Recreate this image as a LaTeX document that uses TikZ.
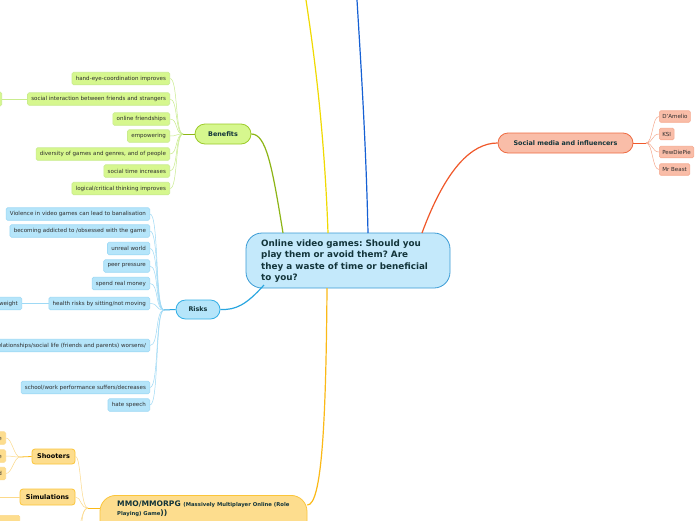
\documentclass[tikz,border=0pt]{standalone}
\usepackage{fontspec}
\setmainfont{DejaVu Sans}
\frenchspacing
\definecolor{cfill}{HTML}{C4E9FB}
\definecolor{cdraw}{HTML}{3A9BD5}
\definecolor{ctext}{HTML}{12343A}
\definecolor{gfill}{HTML}{D6F78E}
\definecolor{gdraw}{HTML}{9CCB2A}
\definecolor{gline}{HTML}{8DB516}
\definecolor{glight}{HTML}{C9EC8E}
\definecolor{bfill}{HTML}{B5E5FA}
\definecolor{bdraw}{HTML}{35B0E6}
\definecolor{bline}{HTML}{29A6E0}
\definecolor{blight}{HTML}{9ED9F5}
\definecolor{rfill}{HTML}{F9BDA8}
\definecolor{rdraw}{HTML}{EE6C43}
\definecolor{rline}{HTML}{F0582A}
\definecolor{rlight}{HTML}{F6AA90}
\definecolor{yfill}{HTML}{FDDD8E}
\definecolor{ydraw}{HTML}{FBC53A}
\definecolor{yline}{HTML}{FBB917}
\definecolor{ylight}{HTML}{FCD98A}
\definecolor{yellowline}{HTML}{F0DA00}
\definecolor{darkblue}{HTML}{1560D4}
\definecolor{leaftext}{HTML}{2E2E2E}
\tikzset{
  leaf/.style={draw, rounded corners=1.5pt, line width=0.6pt, inner xsep=3.8pt, inner ysep=0pt,
    minimum height=12.5pt, font=\fontsize{5.55}{6.5}\selectfont, text=leaftext},
  gleaf/.style={leaf, fill=gfill, draw=glight},
  bleaf/.style={leaf, fill=bfill, draw=blight},
  rleaf/.style={leaf, fill=rfill, draw=rlight, minimum height=11.5pt, inner xsep=3pt},
  yleaf/.style={leaf, fill=yfill, draw=ylight},
  mainbox/.style={draw, line width=0.8pt, inner sep=0pt, text=ctext,
    font=\fontsize{6.4}{8}\selectfont\bfseries},
  bsub/.style={line width=0.5pt, draw=blight},
  gsub/.style={line width=0.5pt, draw=glight},
  rsub/.style={line width=0.5pt, draw=rlight},
  ysub/.style={line width=0.5pt, draw=ylight},
}
\begin{document}
\begin{tikzpicture}[x=1pt,y=-1pt]
\useasboundingbox (0,0) rectangle (696,520);
\fill[white] (0,0) rectangle (696,520);

% ---------- central node
\node[draw=cdraw, fill=cfill, line width=0.8pt, rounded corners=16pt,
  minimum width=204pt, minimum height=55pt, inner sep=0pt] (c) at (348,260.5) {};
\node[anchor=west, inner sep=0pt, align=left,
  text=ctext, font=\fontsize{8.8}{11.3}\selectfont\bfseries]
  (ct) at (261,261) {Online video games: Should you\\play them or avoid them? Are\\they a waste of time or beneficial\\to you?};

% ---------- main nodes
\node[mainbox, fill=gfill, draw=gdraw, rounded corners=10pt, minimum width=56pt, minimum height=20pt] (ben) at (223,134) {Benefits};
\node[mainbox, fill=bfill, draw=bdraw, rounded corners=9.5pt, minimum width=44pt, minimum height=19pt] (risk) at (198,309.5) {Risks};
\node[mainbox, fill=rfill, draw=rdraw, rounded corners=10pt, minimum width=135pt, minimum height=20pt] (soc) at (565.5,143) {Social media and influencers};
\node[draw=ydraw, fill=yfill, line width=0.8pt, rounded corners=16pt, minimum width=207pt, minimum height=50pt,
  anchor=north, inner sep=0pt] (mmo) at (203.5,495) {};
\node[anchor=north west, inner sep=0pt, align=left, text=ctext,
  font=\fontsize{7.6}{8.6}\selectfont\bfseries]
  (mmot) at (117,501) {MMO/MMORPG {\fontsize{5.3}{8.6}\selectfont (Massively Multiplayer Online (Role}\\{\fontsize{5.3}{8.6}\selectfont Playing) Game})) };

\node[mainbox, fill=yfill, draw=ydraw, rounded corners=3pt, minimum width=43pt, minimum height=15pt, text=black, font=\fontsize{6.5}{8}\selectfont\bfseries] (shoot) at (53.5,456.5) {Shooters};
\node[mainbox, fill=yfill, draw=ydraw, rounded corners=3pt, minimum width=55pt, minimum height=16pt, text=black, font=\fontsize{6.5}{8}\selectfont\bfseries] (sim) at (47.5,497) {Simulations};

% ---------- main connectors
\draw[gline, line width=1.2pt] (283,233) .. controls (272,165) and (266,134) .. (ben.east);
\draw[bline, line width=1.2pt] (264,285) .. controls (246,305) and (236,310) .. (risk.east);
\draw[rline, line width=1.2pt] (422,233) .. controls (446,168) and (472,143) .. (soc.west);
\draw[yline, line width=1.2pt] (327,288) .. controls (326,420) and (322,505) .. (mmo.east |- 0,505);
\draw[yellowline, line width=1.2pt] (328,233) .. controls (324,120) and (312,40) .. (306,0);
\draw[darkblue, line width=1.2pt] (368,233) .. controls (366,140) and (360,50) .. (357,0);

% ---------- Benefits leaves
\coordinate (bj) at (183,134);
\draw[gline, line width=1pt] (ben.west) -- (bj);
\node[gleaf, anchor=east] (b1) at (170,78.5) {hand-eye-coordination improves};
\node[gleaf, anchor=east] (b2) at (170,99) {social interaction between friends and strangers};
\node[gleaf, anchor=east] (b3) at (170,119) {online friendships};
\node[gleaf, anchor=east] (b4) at (170,136) {empowering};
\node[gleaf, anchor=east] (b5) at (170,154) {diversity of games and genres, and of people};
\node[gleaf, anchor=east] (b6) at (170,171) {social time increases};
\node[gleaf, anchor=east] (b7) at (170,188.5) {logical/critical thinking improves};
\foreach \n in {b1,b2,b3,b4,b5,b6,b7}
  \draw[gsub] (bj) .. controls +(-8,0) and +(8,0) .. (\n.east);
\node[gleaf, anchor=east, minimum width=10pt, minimum height=14pt] (b2a) at (2,99) {};
\draw[gsub] (b2.west) -- (b2a.east);

% ---------- Risks leaves
\coordinate (rj) at (164,310);
\draw[bline, line width=1pt] (risk.west) -- (rj);
\node[bleaf, anchor=east] (r1) at (150,214) {Violence in video games can lead to banalisation};
\node[bleaf, anchor=east] (r2) at (150,231) {becoming addicted to /obsessed with the game};
\node[bleaf, anchor=east] (r3) at (150,248.5) {unreal world};
\node[bleaf, anchor=east] (r4) at (150,266) {peer pressure};
\node[bleaf, anchor=east] (r5) at (150,283.5) {spend real money};
\node[bleaf, anchor=east] (r6) at (150,303.5) {health risks by sitting/not moving};
\node[bleaf, anchor=east] (r7) at (150,345.5) {relationships/social life (friends and parents) worsens/};
\node[bleaf, anchor=east] (r8) at (150,387.5) {school/work performance suffers/decreases};
\node[bleaf, anchor=east] (r9) at (150,405) {hate speech};
\foreach \n in {r1,r2,r3,r4,r5,r6,r7,r8,r9}
  \draw[bsub] (rj) .. controls +(-9,0) and +(9,0) .. (\n.east);
\node[bleaf, anchor=east] (r6a) at (22,303.5) {overweight};
\draw[bsub] (r6.west) -- (r6a.east);

% ---------- Social media leaves
\coordinate (sj) at (646,143);
\draw[rline, line width=1pt] (soc.east) -- (sj);
\node[rleaf, anchor=west] (s1) at (659,116.5) {D'Amelio};
\node[rleaf, anchor=west] (s2) at (659,134) {KSI};
\node[rleaf, anchor=west] (s3) at (659,152) {PewDiePie};
\node[rleaf, anchor=west] (s4) at (659,169.5) {Mr Beast};
\foreach \n in {s1,s2,s3,s4}
  \draw[rsub] (sj) .. controls +(7,0) and +(-7,0) .. (\n.west);

% ---------- MMO children
\coordinate (mj) at (88,508);
\draw[yline, line width=1pt] (mmo.west |- 0,508) -- (mj);
\draw[ysub] (mj) .. controls +(-8,0) and +(6,0) .. (shoot.east);
\draw[ysub] (mj) .. controls +(-8,0) and +(6,0) .. (sim.east);
\draw[ysub] (mj) .. controls +(-8,0) and +(6,0) .. (78,530);
\draw[ysub] (mj) .. controls +(-8,0) and +(6,0) .. (74,540);

\coordinate (shj) at (20,457);
\draw[yline, line width=0.8pt] (shoot.west) -- (shj);
\node[yleaf, anchor=east] (sh1) at (6,438) {Fortnite};
\node[yleaf, anchor=east] (sh2) at (6,456) {Counter-Strike};
\node[yleaf, anchor=east] (sh3) at (6,473.5) {Battlefield};
\foreach \n in {sh1,sh2,sh3}
  \draw[ysub] (shj) .. controls +(-6,0) and +(6,0) .. (\n.east);
\coordinate (simx) at (0,497);
\draw[ysub] (sim.west) -- (simx);
\node[yleaf, anchor=north east, minimum width=22pt, minimum height=12pt] (low) at (20,515) {};
\end{tikzpicture}
\end{document}
